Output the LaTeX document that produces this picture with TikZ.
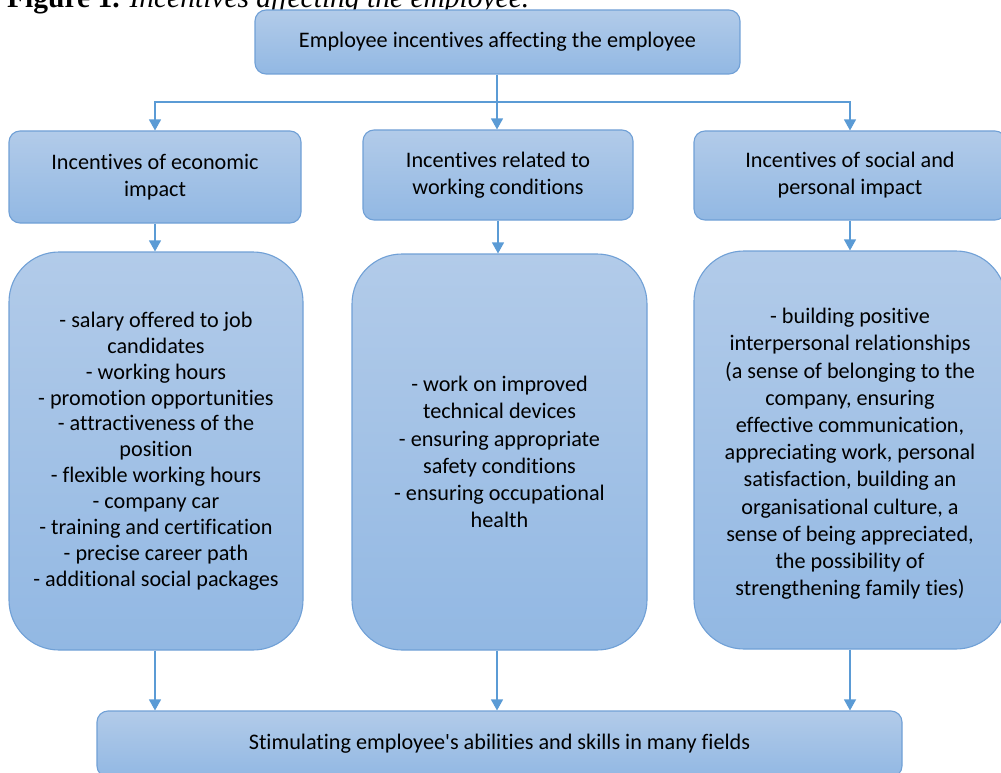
\documentclass[tikz,border=0pt]{standalone}
\usepackage{fontspec}
\setmainfont{Carlito}[Ligatures={NoCommon}]
\newfontfamily\captfont{Liberation Serif}
\usetikzlibrary{arrows.meta}
\definecolor{boxtop}{RGB}{178,203,233}
\definecolor{boxbot}{RGB}{146,184,227}
\definecolor{boxline}{RGB}{112,160,214}
\definecolor{arrline}{RGB}{91,155,213}
\begin{document}
\begin{tikzpicture}[x=1pt,y=-1pt,
  box/.style={draw=boxline, line width=1.1pt, top color=boxtop, bottom color=boxbot,
    align=center, inner sep=0pt, font=\fontsize{22.2}{27}\selectfont, text=black},
  smallbox/.style={box, rounded corners=11pt},
  bigbox/.style={box, rounded corners=50pt},
  arr/.style={draw=arrline, line width=1.2pt, -{Triangle[width=12pt,length=11pt]}},
  conn/.style={draw=arrline, line width=1.2pt}]
\useasboundingbox (0,0) rectangle (1001,773);
\node[anchor=base west, inner sep=0pt] (cap) at (7,8) {\fontsize{29.5}{32}\selectfont\captfont\textbf{Figure 1.} \textit{Incentives affecting the employee.}};
\node[smallbox, minimum width=485pt, minimum height=64pt] (top) at (497.5,42) {Employee incentives affecting the employee};
\node[smallbox, minimum width=292pt, minimum height=92pt] (b1) at (155,177) {Incentives of economic\\impact};
\node[smallbox, minimum width=270pt, minimum height=90pt] (b2) at (498,175) {Incentives related to\\working conditions};
\node[smallbox, minimum width=312pt, minimum height=89pt] (b3) at (850,175.5) {Incentives of social and\\personal impact};
\node[bigbox, minimum width=294pt, minimum height=398pt, font=\fontsize{22.2}{25.9}\selectfont] (A) at (156,451) {- salary offered to job\\candidates\\- working hours\\- promotion opportunities\\- attractiveness of the\\position\\- flexible working hours\\- company car\\- training and certification\\- precise career path\\- additional social packages};
\node[bigbox, minimum width=295pt, minimum height=396pt, font=\fontsize{22.2}{27.2}\selectfont] (B) at (499.5,452) {- work on improved\\technical devices\\- ensuring appropriate\\safety conditions\\- ensuring occupational\\health};
\node[bigbox, minimum width=312pt, minimum height=398pt, font=\fontsize{22.2}{27.2}\selectfont] (C) at (850,450) {\\[-4pt]- building positive\\interpersonal relationships\\(a sense of belonging to the\\company, ensuring\\effective communication,\\appreciating work, personal\\satisfaction, building an\\organisational culture, a\\sense of being appreciated,\\the possibility of\\strengthening family ties)};
\node[smallbox, minimum width=805pt, minimum height=66pt] (F) at (499.5,744) {Stimulating employee\textquotesingle s abilities and skills in many fields};
\coordinate (j) at (497,102);
\draw[conn] (top.south -| j) -- (j);
\draw[arr] (j) -| (b1.north);
\draw[arr] (j) -- (j |- b2.north);
\draw[arr] (j) -| (b3.north);
\draw[arr] (b1.south) -- (b1.south |- A.north);
\draw[arr] (b2.south) -- (b2.south |- B.north);
\draw[arr] (b3.south) -- (b3.south |- C.north);
\draw[arr] (A.south -| b1.south) -- (b1.south |- F.north);
\draw[arr] (B.south -| j) -- (j |- F.north);
\draw[arr] (C.south) -- (C.south |- F.north);
\end{tikzpicture}
\end{document}
